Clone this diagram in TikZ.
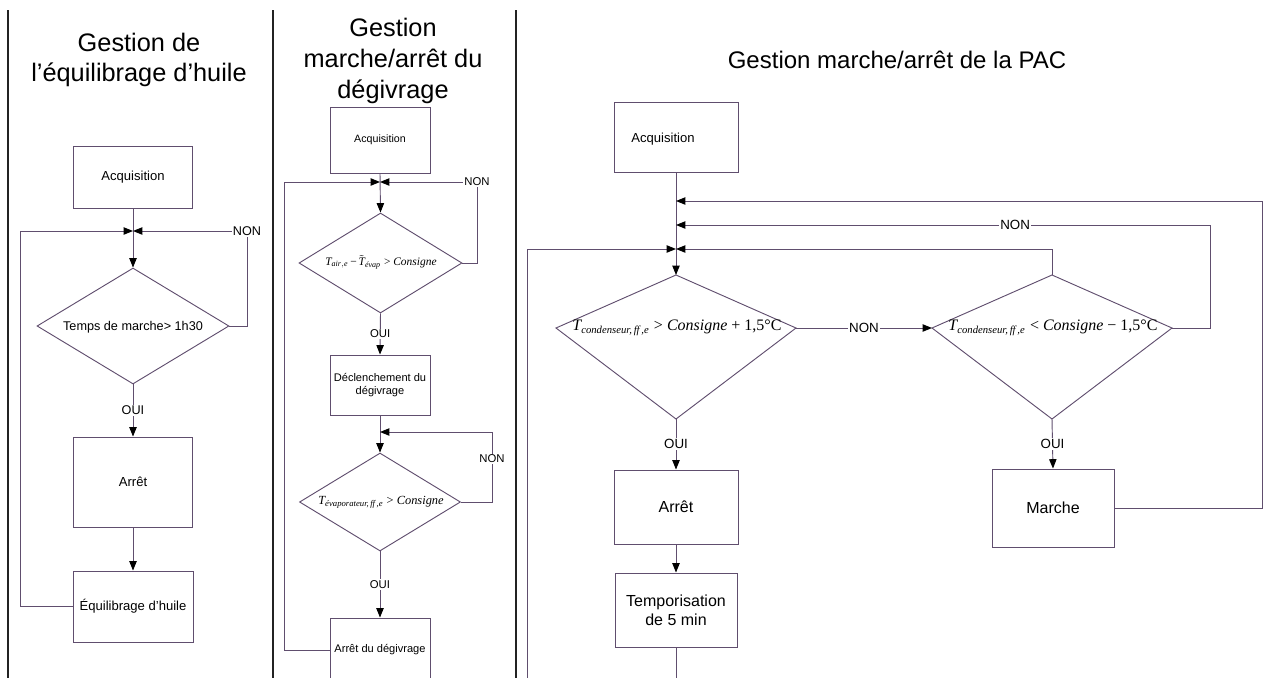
\documentclass[tikz,border=0pt]{standalone}
\usepackage{amsmath}
\usepackage{fontspec}
\setmainfont{Liberation Sans}
\newfontfamily\tms{Liberation Serif}
\usetikzlibrary{arrows.meta,shapes.geometric}
\definecolor{lc}{RGB}{96,78,110}
\definecolor{dv}{RGB}{35,35,35}
\newcommand{\ti}[1]{\text{\tms\itshape #1}}
\newcommand{\fT}[1]{$\ti{T}_{\ti{#1}}$}
\def\pxu{0.75pt}
\begin{document}
\begin{tikzpicture}[x=0.75pt,y=-0.75pt,
  box/.style={draw=lc, line width=0.7pt, rectangle, inner sep=0pt, align=center},
  dia/.style={draw=lc, line width=0.7pt, diamond, inner sep=0pt},
  ln/.style={draw=lc, line width=0.7pt},
  arr/.style={ln, -{Triangle[length=7pt,width=5.5pt,color=black]}},
  lab/.style={fill=white, inner sep=1pt, text=black},
  title/.style={align=center, font=\fontsize{19}{23}\selectfont},
  divider/.style={draw=dv, line width=0.9pt}]
\useasboundingbox (0,0) rectangle (1279,678);
\clip (0,0) rectangle (1279,678);

% dividers
\draw[divider] (8,10) -- (8,680);
\draw[divider] (273,10) -- (273,680);
\draw[divider] (516,10) -- (516,680);

% ---------------- left panel
\node[title] (Lt) at (139,60) {Gestion de\\l’équilibrage d’huile};
\node[box, minimum width=119*\pxu, minimum height=62*\pxu, font=\fontsize{9.8}{11}\selectfont] (Lacq) at (133,177) {Acquisition};
\node[dia, minimum width=192*\pxu, minimum height=116*\pxu] (Ldia) at (133,326) {};
\node[font=\fontsize{9.5}{11}\selectfont] (Ldiat) at (133,327) {Temps de marche> 1h30};
\node[box, minimum width=119*\pxu, minimum height=90*\pxu, font=\fontsize{9.8}{11}\selectfont] (Larr) at (133,482) {Arrêt};
\node[box, minimum width=120*\pxu, minimum height=71*\pxu, font=\fontsize{9.8}{11}\selectfont] (Lequ) at (133,606.5) {Équilibrage d’huile};
\coordinate (Lj) at (133,231);
\coordinate (Lc1) at (20,231);
\coordinate (Lc2) at (247,231);
\draw[arr] (Lacq.south) -- (Ldia.north);
\draw[arr] (Lequ.west) -| (Lc1) -- (Lj);
\draw[arr] (Ldia.east) -| (Lc2) -- (Lj);
\node[lab, font=\fontsize{9.5}{11}\selectfont] (Lnon) at (Lc2) {NON};
\draw[arr] (Ldia.south) -- node[lab, font=\fontsize{9.5}{11}\selectfont] (Loui) {OUI} (Larr.north);
\draw[arr] (Larr.south) -- (Lequ.north);

% ---------------- middle panel
\node[title] (Mt) at (393,61) {Gestion\\marche/arrêt du\\dégivrage};
\node[box, minimum width=100*\pxu, minimum height=66*\pxu, font=\fontsize{8}{9}\selectfont] (Macq) at (380,140) {Acquisition};
\coordinate (Mj1) at (380,182);
\coordinate (Mc1) at (284,182);
\coordinate (Mc2) at (477,182);
\node[dia, minimum width=163*\pxu, minimum height=100*\pxu] (Md1) at (380.5,263) {};
\node[font=\fontsize{8.6}{11}\selectfont] (Md1t) at (381,262) {$\ti{T}_{\ti{air},\ti{e}}$\,{\tms −}\,$\tilde{\ti{T}}_{\ti{évap}}$ {\tms > \textit{Consigne}}};
\node[box, minimum width=100*\pxu, minimum height=60*\pxu, font=\fontsize{8.3}{10}\selectfont] (Mdec) at (380,385) {Déclenchement du\\dégivrage};
\coordinate (Mj2) at (380,432);
\coordinate (Mc3) at (492,432);
\node[dia, minimum width=161*\pxu, minimum height=98*\pxu] (Md2) at (380,502) {};
\node[font=\fontsize{9.3}{12}\selectfont] (Md2t) at (381,502) {\fT{évaporateur,\,ff\,,e} {\tms > \textit{Consigne}}};
\node[box, minimum width=100*\pxu, minimum height=64*\pxu, font=\fontsize{8.3}{10}\selectfont] (Mend) at (380,650) {Arrêt du dégivrage};
\draw[arr] (Macq.south) -- (Md1.north);
\draw[arr] (Mend.west) -| (Mc1) -- (Mj1);
\draw[arr] (Md1.east) -| (Mc2) -- (Mj1);
\node[lab, font=\fontsize{8.5}{10}\selectfont] (Mnon1) at (Mc2) {NON};
\draw[arr] (Md1.south) -- node[lab, font=\fontsize{8.5}{10}\selectfont] (Moui1) {OUI} (Mdec.north);
\draw[arr] (Mdec.south) -- (Md2.north);
\draw[arr] (Md2.east) -| (Mc3) -- (Mj2);
\node[lab, font=\fontsize{8.5}{10}\selectfont] (Mnon2) at (492,459) {NON};
\draw[arr] (Md2.south) -- node[lab, font=\fontsize{8.5}{10}\selectfont] (Moui2) {OUI} (Mend.north);

% ---------------- right panel
\node[title, font=\fontsize{18}{22}\selectfont] (Rt) at (897,60) {Gestion marche/arrêt de la PAC};
\node[box, minimum width=124*\pxu, minimum height=70*\pxu] (Racq) at (676,137) {};
\node[font=\fontsize{9.8}{12}\selectfont] (Racqt) at (663,139) {Acquisition};
\coordinate (Rj1) at (676,201);
\coordinate (Rj2) at (676,225);
\coordinate (Rj3) at (676,249);
\coordinate (Rc1) at (1262,201);
\coordinate (Rc2) at (1210,225);
\coordinate (Rc3) at (527,249);
\coordinate (Rb1) at (676,700);
\coordinate (Rb2) at (527,700);
% decision A
\coordinate (RdA-n) at (676,275);
\coordinate (RdA-e) at (796,328);
\coordinate (RdA-s) at (676,419);
\coordinate (RdA-w) at (556,328);
\draw[ln] (RdA-n) -- (RdA-e) -- (RdA-s) -- (RdA-w) -- cycle;
% decision B
\coordinate (RdB-n) at (1052,275);
\coordinate (RdB-e) at (1172,328);
\coordinate (RdB-s) at (1052,419);
\coordinate (RdB-w) at (932,328);
\draw[ln] (RdB-n) -- (RdB-e) -- (RdB-s) -- (RdB-w) -- cycle;
\node[font=\fontsize{12}{14}\selectfont] (RdAt) at (677,328) {\fT{condenseur,\,ff\,,e} {\tms > \textit{Consigne} + 1,5°C}};
\node[font=\fontsize{12}{14}\selectfont] (RdBt) at (1053,328) {\fT{condenseur,\,ff\,,e} {\tms < \textit{Consigne} − 1,5°C}};
\node[box, minimum width=124*\pxu, minimum height=74*\pxu, font=\fontsize{12}{14}\selectfont] (Rarr) at (676,507) {Arrêt};
\node[box, minimum width=122*\pxu, minimum height=74*\pxu, font=\fontsize{12}{14}\selectfont] (Rtemp) at (676,610) {Temporisation\\de 5 min};
\node[box, minimum width=122*\pxu, minimum height=78*\pxu, font=\fontsize{12}{14}\selectfont] (Rmar) at (1053,508) {Marche};
\draw[arr] (Racq.south) -- (RdA-n);
\draw[arr] (Rmar.east) -| (Rc1) -- (Rj1);
\draw[arr] (RdB-e) -| (Rc2) -- node[lab, pos=0.365, font=\fontsize{10}{12}\selectfont] (Rnon2) {NON} (Rj2);
\draw[arr] (RdB-n) |- (Rj3);
\draw[arr] (Rtemp.south) -- (Rb1) -- (Rb2) -- (Rc3) -- (Rj3);
\draw[arr] (RdA-e) -- node[lab, font=\fontsize{10}{12}\selectfont] (Rnon1) {NON} (RdB-w);
\draw[arr] (RdA-s) -- node[lab, font=\fontsize{10}{12}\selectfont] (Roui1) {OUI} (Rarr.north);
\draw[arr] (RdB-s) -- node[lab, font=\fontsize{10}{12}\selectfont] (Roui2) {OUI} (Rmar.north);
\draw[arr] (Rarr.south) -- (Rtemp.north);
\end{tikzpicture}
\end{document}
